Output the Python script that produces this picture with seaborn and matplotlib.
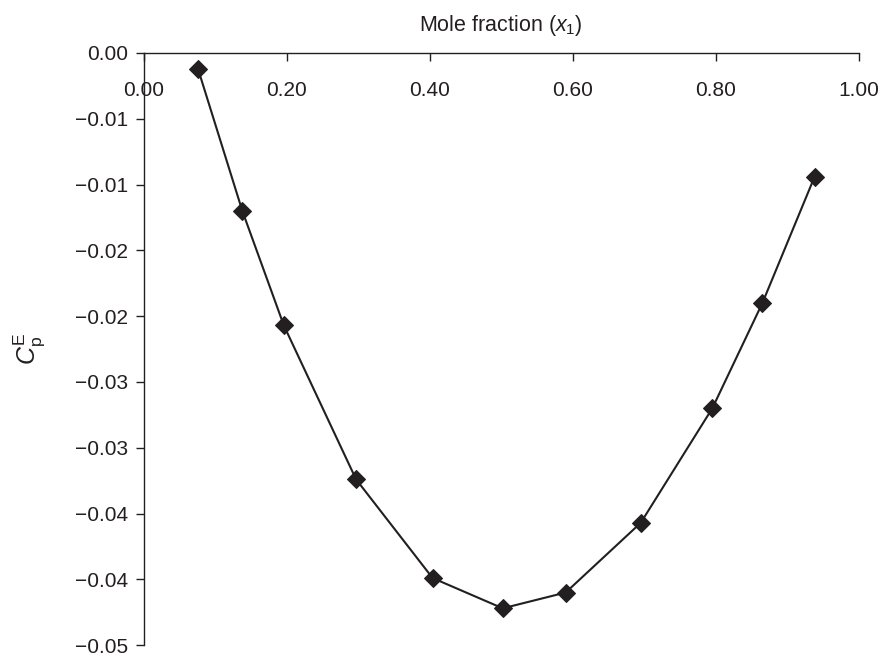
import numpy as np
import pandas as pd
import matplotlib
matplotlib.use("Agg")
import matplotlib.pyplot as plt
import seaborn as sns

sns.set_style("ticks")
plt.rcParams['font.family'] = ['Liberation Sans', 'DejaVu Sans']
plt.rcParams['mathtext.fontset'] = 'custom'
plt.rcParams['mathtext.rm'] = 'Liberation Sans'
plt.rcParams['mathtext.it'] = 'Liberation Sans:italic'

# mole fraction x1 and excess heat capacity values
mole_fraction = [0.076, 0.138, 0.196, 0.297, 0.404, 0.502, 0.590, 0.695, 0.795, 0.865, 0.938]
cp_excess = [-0.0012, -0.0120, -0.0207, -0.0324, -0.0399, -0.0422, -0.0410, -0.0357, -0.0270, -0.0190, -0.0094]

x_ticks = [0.0, 0.2, 0.4, 0.6, 0.8, 1.0]
x_ticklabels = ["0.00", "0.20", "0.40", "0.60", "0.80", "1.00"]
y_ticks = [0.0, -0.005, -0.010, -0.015, -0.020, -0.025, -0.030, -0.035, -0.040, -0.045]
y_ticklabels = ["0.00", "\u22120.01", "\u22120.01", "\u22120.02", "\u22120.02",
                "\u22120.03", "\u22120.03", "\u22120.04", "\u22120.04", "\u22120.05"]

df = pd.DataFrame({"x": mole_fraction, "cp": cp_excess})
ink = "#231f20"

fig = plt.figure(figsize=(8.81, 6.58), dpi=100)
ax = fig.add_axes([0.163, 0.0195, 0.812, 0.90])

sns.lineplot(data=df, x="x", y="cp", ax=ax, color=ink, linewidth=1.5,
             marker="D", markersize=9, markeredgecolor=ink, markerfacecolor=ink)

ax.set_xlim(0, 1.0)
ax.set_ylim(-0.045, 0)

ax.set_xticks(x_ticks)
ax.set_xticklabels(x_ticklabels)
ax.set_yticks(y_ticks)
ax.set_yticklabels(y_ticklabels)

ax.tick_params(axis="x", top=True, labeltop=True, bottom=False, labelbottom=False,
               direction="in", length=6, width=1, pad=-34, labelsize=15, colors=ink)
ax.tick_params(axis="y", direction="out", length=6, width=1, pad=5, labelsize=15, colors=ink)

for side in ["right", "bottom"]:
    ax.spines[side].set_visible(False)
for side in ["left", "top"]:
    ax.spines[side].set_color(ink)
    ax.spines[side].set_linewidth(1)

ax.set_xlabel("")
ax.set_title(r"Mole fraction ($x_1$)", fontsize=15.5, color=ink, pad=16)
ax.set_ylabel(r"$C^{\mathrm{E}}_{\mathrm{p}}$", fontsize=18, color=ink, labelpad=20)

fig.savefig("out.png", dpi=100)
